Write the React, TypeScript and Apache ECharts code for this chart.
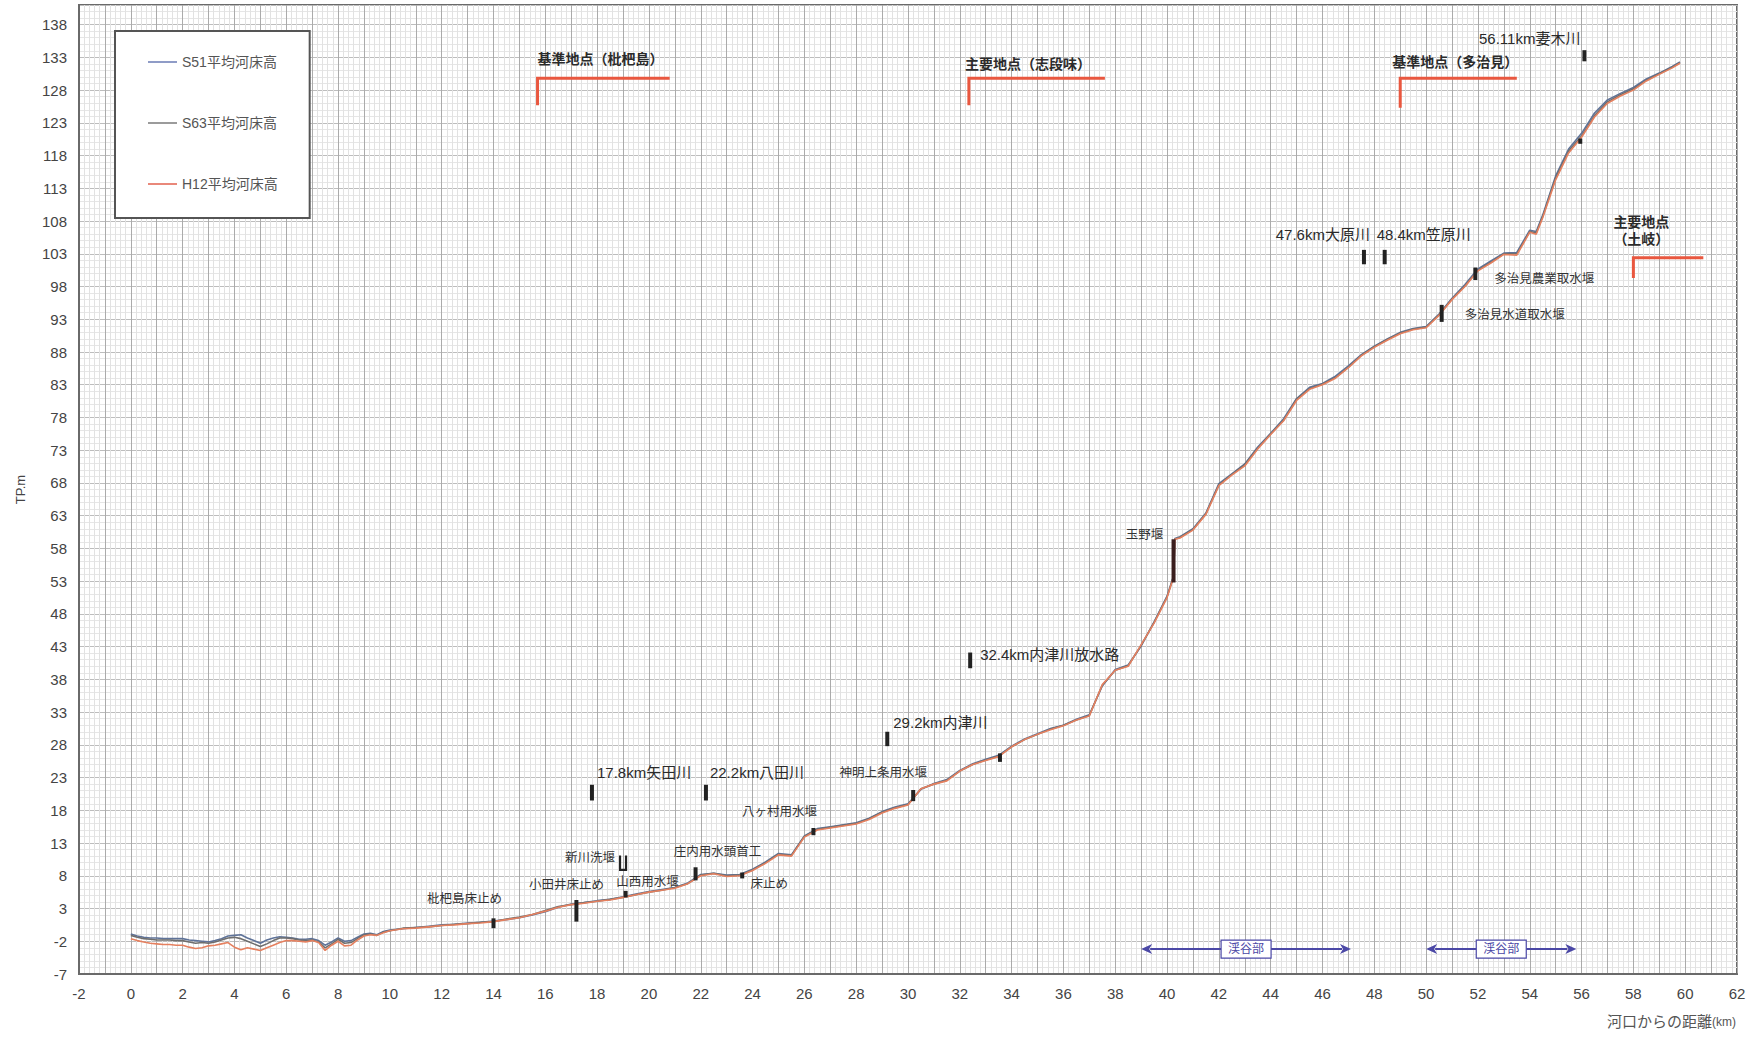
import React, { useEffect, useRef } from 'react';
import * as echarts from 'echarts';

// Distance from the river mouth (km) for every surveyed section
const KM = [
  0, 0.25, 0.5, 0.75, 1, 1.25, 1.5, 1.75, 2, 2.25,
  2.5, 2.75, 3, 3.25, 3.5, 3.75, 4, 4.25, 4.5, 4.75,
  5, 5.25, 5.5, 5.75, 6, 6.25, 6.5, 6.75, 7, 7.25,
  7.5, 7.75, 8, 8.25, 8.5, 8.75, 9, 9.25, 9.5, 9.75,
  10, 10.5, 11, 11.5, 12, 12.5, 13, 13.5, 14, 14.5,
  15, 15.5, 16, 16.5, 17, 17.5, 18, 18.5, 19, 19.5,
  20, 20.5, 21, 21.5, 22, 22.5, 23, 23.5, 24, 24.5,
  25, 25.5, 26, 26.5, 27, 27.5, 28, 28.5, 29, 29.5,
  30, 30.5, 31, 31.5, 32, 32.5, 33, 33.5, 34, 34.5,
  35, 35.5, 36, 36.5, 37, 37.5, 38, 38.5, 39, 39.5,
  40, 40.25, 40.3, 40.5, 41, 41.5, 42, 42.5, 43, 43.5,
  44, 44.5, 45, 45.5, 46, 46.5, 47, 47.5, 48, 48.5,
  49, 49.5, 50, 50.5, 51, 51.5, 52, 52.5, 53, 53.5,
  54, 54.25, 54.5, 55, 55.5, 56, 56.5, 57, 57.5, 58,
  58.5, 59, 59.5, 59.8,
];

// Mean riverbed elevation (TP.m), survey of S51
const S51 = [
  -0.9, -1.2, -1.4, -1.5, -1.5, -1.6, -1.6, -1.6, -1.6, -1.8,
  -1.9, -2.0, -2.1, -1.9, -1.6, -1.2, -1.1, -1.0, -1.5, -1.9,
  -2.3, -1.8, -1.5, -1.3, -1.4, -1.5, -1.7, -1.7, -1.6, -1.9,
  -2.6, -2.1, -1.5, -2.0, -1.9, -1.4, -0.9, -0.8, -1.0, -0.5,
  -0.3, -0.1, 0.1, 0.3, 0.5, 0.6, 0.8, 0.9, 1.1, 1.3,
  1.6, 2.0, 2.5, 3.2, 3.7, 3.9, 4.2, 4.4, 4.8, 5.2,
  5.6, 5.9, 6.2, 6.9, 8.2, 8.4, 8.1, 8.2, 9.0, 10.1,
  11.4, 11.2, 14.1, 15.2, 15.5, 15.8, 16.1, 16.8, 17.8, 18.5,
  19.0, 21.2, 22.1, 22.7, 24.1, 25.1, 25.8, 26.4, 27.8, 28.9,
  29.7, 30.5, 31.0, 31.9, 32.6, 37.0, 39.5, 40.2, 43.1, 46.8,
  50.7, 53.8, 59.5, 59.8, 61.0, 63.4, 67.9, 69.4, 70.9, 73.5,
  75.6, 77.8, 80.9, 82.6, 83.2, 84.3, 85.9, 87.6, 88.9, 90.0,
  91.0, 91.6, 91.9, 93.8, 96.2, 98.3, 100.7, 101.9, 103.1, 103.2,
  106.6, 106.4, 108.9, 114.9, 119.0, 121.4, 124.5, 126.5, 127.5, 128.4,
  129.7, 130.6, 131.6, 132.3,
];

// Mean riverbed elevation (TP.m), survey of S63
const S63 = [
  -1.1, -1.4, -1.6, -1.7, -1.8, -1.8, -1.8, -1.9, -1.9, -2.1,
  -2.3, -2.2, -2.3, -2.1, -1.8, -1.5, -1.4, -1.6, -2.0, -2.4,
  -2.8, -2.4, -1.9, -1.5, -1.5, -1.6, -1.8, -1.9, -1.8, -2.1,
  -3.0, -2.4, -1.7, -2.3, -2.2, -1.6, -1.0, -0.9, -1.1, -0.6,
  -0.4, 0.0, 0.1, 0.2, 0.4, 0.6, 0.7, 0.9, 1.0, 1.4,
  1.7, 2.1, 2.7, 3.3, 3.6, 3.9, 4.1, 4.4, 4.7, 5.1,
  5.5, 5.8, 6.2, 6.8, 8.1, 8.4, 8.0, 8.1, 8.9, 10.0,
  11.3, 11.1, 14.0, 15.1, 15.4, 15.7, 16.0, 16.7, 17.7, 18.4,
  18.9, 21.3, 22.0, 22.6, 24.0, 25.0, 25.7, 26.3, 27.7, 28.8,
  29.6, 30.4, 31.0, 31.8, 32.5, 37.1, 39.4, 40.1, 43.2, 46.7,
  50.6, 53.7, 59.4, 59.7, 60.9, 63.3, 67.7, 69.3, 70.8, 73.3,
  75.5, 77.6, 80.8, 82.4, 83.1, 84.1, 85.7, 87.5, 88.8, 89.9,
  90.9, 91.5, 91.8, 93.7, 96.1, 98.1, 100.5, 101.7, 103.0, 103.0,
  106.4, 106.2, 108.7, 114.6, 118.7, 121.0, 124.1, 126.2, 127.3, 128.2,
  129.5, 130.5, 131.5, 132.2,
];

// Mean riverbed elevation (TP.m), survey of H12
const H12 = [
  -1.6, -1.9, -2.1, -2.3, -2.4, -2.5, -2.5, -2.6, -2.6, -2.9,
  -3.1, -3.0, -2.7, -2.6, -2.4, -2.2, -2.9, -3.3, -3.0, -3.2,
  -3.4, -3.0, -2.6, -2.2, -1.9, -1.9, -2.0, -2.1, -1.9, -2.2,
  -3.4, -2.6, -2.0, -2.7, -2.6, -1.8, -1.2, -1.0, -1.1, -0.7,
  -0.4, -0.1, 0.0, 0.2, 0.4, 0.5, 0.7, 0.8, 1.0, 1.3,
  1.6, 2.1, 2.6, 3.2, 3.6, 3.8, 4.1, 4.3, 4.7, 5.1,
  5.5, 5.8, 6.1, 6.8, 8.0, 8.3, 7.9, 8.0, 8.8, 9.9,
  11.2, 11.0, 13.9, 15.0, 15.3, 15.6, 15.9, 16.6, 17.6, 18.3,
  18.8, 21.3, 22.0, 22.5, 24.0, 25.0, 25.6, 26.2, 27.7, 28.8,
  29.6, 30.3, 30.9, 31.8, 32.4, 37.2, 39.4, 40.0, 43.3, 46.6,
  50.5, 53.6, 59.4, 59.6, 60.8, 63.2, 67.6, 69.2, 70.6, 73.2,
  75.4, 77.5, 80.6, 82.3, 83.0, 84.0, 85.6, 87.4, 88.7, 89.8,
  90.8, 91.4, 91.7, 93.6, 96.0, 98.0, 100.4, 101.6, 102.9, 102.8,
  106.3, 106.0, 108.5, 114.3, 118.4, 120.8, 123.9, 126.0, 127.1, 128.0,
  129.4, 130.4, 131.4, 132.1,
];

const SERIES_NAMES = ['S51平均河床高', 'S63平均河床高', 'H12平均河床高'];

// Axis ticks
const X_MIN = -2;
const X_MAX = 62;
const X_STEP = 1;
const X_LABEL_EVERY = 2;
const Y_MIN = -7;
const Y_MAX = 141;
const Y_STEP = 5;

// Weirs and bed sills on the profile: km, bottom and top of the mark (TP.m)
const WEIR_NAMES = [
  '枇杷島床止め', '小田井床止め', '新川洗堰', '山西用水堰', '庄内用水頭首工', '床止め',
  '八ヶ村用水堰', '神明上条用水堰', '', '玉野堰', '多治見水道取水堰', '多治見農業取水堰', '',
];
const WEIR_KM = [14.0, 17.2, 19.0, 19.1, 21.8, 23.6, 26.35, 30.2, 33.55, 40.25, 50.6, 51.9, 55.95];
const WEIR_LOW = [0.0, 1.0, 8.9, 4.7, 7.3, 7.6, 14.2, 19.4, 25.4, 52.8, 92.6, 99.0, 119.8];
const WEIR_HIGH = [1.5, 4.3, 11.1, 5.7, 9.3, 8.5, 15.3, 21.1, 26.7, 59.4, 95.2, 100.9, 120.6];
const WEIR_GLYPH = ['bar', 'bar', 'u', 'bar', 'bar', 'bar', 'bar', 'bar', 'bar', 'bar', 'bar', 'bar', 'bar'];

// Tributary confluences
const TRIB_NAMES = ['17.8km矢田川', '22.2km八田川', '29.2km内津川', '32.4km内津川放水路', '47.6km大原川', '48.4km笠原川', '56.11km妻木川'];
const TRIB_KM = [17.8, 22.2, 29.2, 32.4, 47.6, 48.4, 56.11];
const TRIB_LOW = [19.5, 19.5, 27.8, 39.7, 101.4, 101.4, 132.4];
const TRIB_HIGH = [21.9, 21.9, 30.0, 42.1, 103.6, 103.6, 134.1];

// Reference / main gauging stations (red brackets)
const STATION_NAMES = ['基準地点（枇杷島）', '主要地点（志段味）', '基準地点（多治見）', '主要地点\n（土岐）'];
const STATION_KM = [15.7, 32.35, 49.0, 58.0];
const STATION_END = [20.8, 37.6, 53.5, 60.7];
const STATION_TOP = [129.8, 129.8, 129.8, 102.4];
const STATION_BOTTOM = [125.7, 125.7, 125.3, 99.3];

// Gorge reaches
const VALLEY_NAME = '渓谷部';
const VALLEY_FROM = [39.0, 50.0];
const VALLEY_TO = [47.1, 55.8];
const VALLEY_LEVEL = -3.2;

// Label placement (pixels, relative to the top of each mark)
const WEIR_LABEL_LAYOUT: [number, number, string][] = [
  [-29, -19, 'center'], [-10, -15, 'center'], [-8, 3, 'right'], [22, -9, 'center'],
  [22, -15, 'center'], [27, 11, 'center'], [-34, -16, 'center'], [-30, -17, 'center'],
  [0, 0, 'center'], [-29, -4, 'center'], [23, 10, 'left'], [19, 11, 'left'], [0, 0, 'center'],
];
const TRIB_LABEL_LAYOUT: [number, number, string][] = [
  [5, -12, 'left'], [4, -12, 'left'], [6, -9, 'left'], [10, 2, 'left'],
  [6, -15, 'right'], [-8, -15, 'left'], [-4, -12, 'right'],
];
const STATION_LABEL_LAYOUT: [number, number, string][] = [
  [0, -19, 'left'], [-4, -14, 'left'], [-8, -16, 'left'], [8, -27, 'center'],
];

const FONT = "'Liberation Sans', 'Noto Sans CJK JP', sans-serif";
const LINE_COLORS = ['#5f7399', '#6e6e6e', '#e5805f'];
const LEGEND_COLORS = ['#6a7bb5', '#7a7a7a', '#e2604e'];
const MARK_COLOR = '#222';
const STATION_COLOR = '#e9573f';
const VALLEY_COLOR = '#4b48a6';

function buildOption(): any {
  const lineSeries = [S51, S63, H12].map((vals, s) => ({
    name: SERIES_NAMES[s],
    type: 'line',
    data: KM.map((k, i) => [k, vals[i]]),
    symbol: 'none',
    silent: true,
    z: 3 + s,
    lineStyle: { color: LINE_COLORS[s], width: 1.6 },
    itemStyle: { color: LEGEND_COLORS[s] },
  }));

  const weirSeries = {
    type: 'custom',
    silent: true,
    z: 10,
    data: WEIR_KM.map((k, i) => [k, WEIR_LOW[i], WEIR_HIGH[i], i]),
    renderItem: (_params: any, api: any) => {
      const i = api.value(3);
      const top = api.coord([api.value(0), api.value(2)]);
      const bottom = api.coord([api.value(0), api.value(1)]);
      const h = Math.max(bottom[1] - top[1], 3);
      const children: any[] = [];
      if (WEIR_GLYPH[i] === 'u') {
        children.push({
          type: 'polyline',
          shape: {
            points: [
              [top[0] - 3, top[1]], [top[0] - 3, top[1] + h],
              [top[0] + 3, top[1] + h], [top[0] + 3, top[1]],
            ],
          },
          style: { stroke: MARK_COLOR, lineWidth: 2.2, fill: null },
        });
      } else {
        children.push({
          type: 'rect',
          shape: { x: top[0] - 2, y: top[1], width: 4, height: h },
          style: { fill: i === 9 ? '#3a1e1e' : MARK_COLOR },
        });
      }
      if (WEIR_NAMES[i]) {
        const [dx, dy, align] = WEIR_LABEL_LAYOUT[i];
        children.push({
          type: 'text',
          x: top[0] + dx,
          y: top[1] + dy,
          style: {
            text: WEIR_NAMES[i], fill: '#333', fontSize: 12.5, fontFamily: FONT,
            align, verticalAlign: 'middle',
          },
        });
      }
      return { type: 'group', children };
    },
  };

  const tribSeries = {
    type: 'custom',
    silent: true,
    z: 10,
    data: TRIB_KM.map((k, i) => [k, TRIB_LOW[i], TRIB_HIGH[i], i]),
    renderItem: (_params: any, api: any) => {
      const i = api.value(3);
      const top = api.coord([api.value(0), api.value(2)]);
      const bottom = api.coord([api.value(0), api.value(1)]);
      const [dx, dy, align] = TRIB_LABEL_LAYOUT[i];
      return {
        type: 'group',
        children: [
          {
            type: 'rect',
            shape: { x: top[0] - 2, y: top[1], width: 4, height: bottom[1] - top[1] },
            style: { fill: MARK_COLOR },
          },
          {
            type: 'text',
            x: top[0] + dx,
            y: top[1] + dy,
            style: {
              text: TRIB_NAMES[i], fill: '#2a2a2a', fontSize: 15, fontFamily: FONT,
              align, verticalAlign: 'middle',
            },
          },
        ],
      };
    },
  };

  const stationSeries = {
    type: 'custom',
    silent: true,
    z: 10,
    data: STATION_KM.map((k, i) => [k, STATION_BOTTOM[i], STATION_END[i], STATION_TOP[i], i]),
    renderItem: (_params: any, api: any) => {
      const i = api.value(4);
      const corner = api.coord([api.value(0), api.value(3)]);
      const foot = api.coord([api.value(0), api.value(1)]);
      const end = api.coord([api.value(2), api.value(3)]);
      const [dx, dy, align] = STATION_LABEL_LAYOUT[i];
      return {
        type: 'group',
        children: [
          {
            type: 'polyline',
            shape: { points: [foot, corner, end] },
            style: { stroke: STATION_COLOR, lineWidth: 3, fill: null },
          },
          {
            type: 'text',
            x: corner[0] + dx,
            y: corner[1] + dy,
            style: {
              text: STATION_NAMES[i], fill: '#2b2b2b', fontSize: 14, fontWeight: 'bold',
              fontFamily: FONT, align, verticalAlign: 'middle', lineHeight: 17,
            },
          },
        ],
      };
    },
  };

  const valleySeries = {
    type: 'custom',
    silent: true,
    z: 10,
    data: VALLEY_FROM.map((f, i) => [f, VALLEY_LEVEL, VALLEY_TO[i], i]),
    renderItem: (_params: any, api: any) => {
      const a = api.coord([api.value(0), api.value(1)]);
      const b = api.coord([api.value(2), api.value(1)]);
      const y = a[1];
      const mid = (a[0] + b[0]) / 2;
      const head = 11;
      return {
        type: 'group',
        children: [
          {
            type: 'line',
            shape: { x1: a[0] + head - 2, y1: y, x2: b[0] - head + 2, y2: y },
            style: { stroke: VALLEY_COLOR, lineWidth: 2 },
          },
          {
            type: 'polygon',
            shape: { points: [[a[0], y], [a[0] + head, y - 5], [a[0] + head - 3, y], [a[0] + head, y + 5]] },
            style: { fill: VALLEY_COLOR },
          },
          {
            type: 'polygon',
            shape: { points: [[b[0], y], [b[0] - head, y - 5], [b[0] - head + 3, y], [b[0] - head, y + 5]] },
            style: { fill: VALLEY_COLOR },
          },
          {
            type: 'rect',
            shape: { x: mid - 25, y: y - 9, width: 50, height: 18 },
            style: { fill: '#fff', stroke: VALLEY_COLOR, lineWidth: 1.2 },
          },
          {
            type: 'text',
            x: mid,
            y: y,
            style: {
              text: VALLEY_NAME, fill: VALLEY_COLOR, fontSize: 12, fontFamily: FONT,
              align: 'center', verticalAlign: 'middle',
            },
          },
        ],
      };
    },
  };

  return {
    animation: false,
    backgroundColor: '#fff',
    grid: {
      left: 79, right: 21, top: 5, bottom: 63,
      show: true, borderColor: '#6a6a6a', borderWidth: 2, backgroundColor: '#fff',
    },
    legend: {
      data: SERIES_NAMES,
      orient: 'vertical',
      left: 115,
      top: 31,
      padding: [23, 32, 26, 33],
      itemGap: 45,
      itemWidth: 29,
      itemHeight: 1.5,
      icon: 'rect',
      selectedMode: false,
      backgroundColor: '#fff',
      borderColor: '#555',
      borderWidth: 2,
      textStyle: { fontSize: 14, color: '#555', fontFamily: FONT, lineHeight: 16, height: 16 },
    },
    xAxis: {
      type: 'value',
      min: X_MIN,
      max: X_MAX,
      interval: X_STEP,
      axisLine: { show: true, onZero: false, lineStyle: { color: '#6a6a6a', width: 2 } },
      axisTick: { show: false },
      axisLabel: {
        formatter: (v: number) => (Math.round(v) % X_LABEL_EVERY === 0 ? String(v) : ''),
        fontSize: 15, color: '#444', fontFamily: FONT, margin: 12,
      },
      splitLine: { show: true, lineStyle: { color: '#ababab', width: 1 } },
      minorTick: { show: false, splitNumber: 5 },
      minorSplitLine: { show: true, lineStyle: { color: '#e2e2e2', width: 1 } },
    },
    yAxis: {
      type: 'value',
      min: Y_MIN,
      max: Y_MAX,
      interval: Y_STEP,
      name: 'TP.m',
      nameLocation: 'middle',
      nameRotate: 90,
      nameGap: 52,
      nameTextStyle: { fontSize: 13, color: '#444', fontFamily: FONT },
      axisLine: { show: true, onZero: false, lineStyle: { color: '#6a6a6a', width: 2 } },
      axisTick: { show: false },
      axisLabel: { showMaxLabel: false, fontSize: 15, color: '#444', fontFamily: FONT, margin: 12 },
      splitLine: { show: true, lineStyle: { color: '#bdbdbd', width: 1 } },
      minorTick: { show: false, splitNumber: 5 },
      minorSplitLine: { show: true, lineStyle: { color: '#e6e6e6', width: 1 } },
    },
    graphic: [
      {
        type: 'text',
        right: 22,
        top: 1014,
        style: {
          text: '{a|河口からの距離}{b|(km)}',
          rich: {
            a: { fontSize: 15, fill: '#555', fontFamily: FONT },
            b: { fontSize: 12, fill: '#555', fontFamily: FONT },
          },
        },
      },
    ],
    series: [...lineSeries, weirSeries, tribSeries, stationSeries, valleySeries],
  };
}

export default function App() {
  const ref = useRef<HTMLDivElement>(null);
  useEffect(() => {
    if (!ref.current) return;
    const chart = echarts.init(ref.current, undefined, { renderer: 'svg' });
    chart.setOption(buildOption());
    return () => chart.dispose();
  }, []);
  return (
    <div
      ref={ref}
      style={{ position: 'fixed', left: 0, top: 0, width: 1758, height: 1037, background: '#fff' }}
    />
  );
}
